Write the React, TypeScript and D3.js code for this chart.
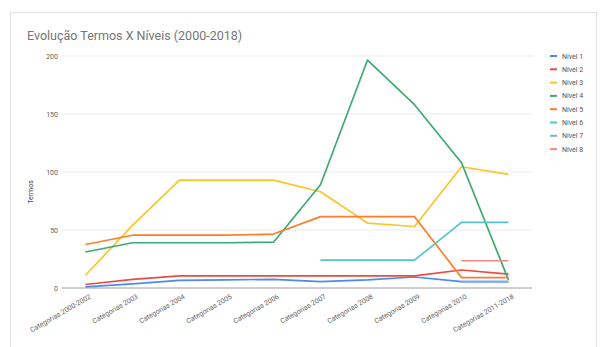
import React from "react";
import * as d3 from "d3";

const categories = [
  "Categorias 2000-2002",
  "Categorias 2003",
  "Categorias 2004",
  "Categorias 2005",
  "Categorias 2006",
  "Categorias 2007",
  "Categorias 2008",
  "Categorias 2009",
  "Categorias 2010",
  "Categorias 2011-2018",
];

const seriesNames = ["Nível 1", "Nível 2", "Nível 3", "Nível 4", "Nível 5", "Nível 6", "Nível 7", "Nível 8"];
const seriesColors = ["#4a8af4", "#ea4d3d", "#fbc52a", "#3daa72", "#ff7d2a", "#56c3cb", "#7baaf7", "#f08a82"];

const nivel1 = [1, 3.5, 6.5, 7, 7.5, 5.5, 7, 9.5, 5.5, 5.5];
const nivel2 = [3, 7.5, 10.5, 10.5, 10.5, 10.5, 10.5, 10.5, 15.5, 12];
const nivel3 = [11, 54, 93, 93, 93, 83, 56, 53, 104.5, 98];
const nivel4 = [31, 39, 39, 39, 39.5, 89, 196.5, 158, 108, 7];
const nivel5 = [37.5, 45.5, 45.5, 45.5, 46.5, 61.5, 61.5, 61.5, 9, 9];
const nivel6 = [null, null, null, null, null, 24, 24, 24, 56.5, 56.5];
const nivel7 = [null, null, null, null, null, null, null, null, 5.5, 5.5];
const nivel8 = [null, null, null, null, null, null, null, null, 23.5, 23.5];

const seriesValues: (number | null)[][] = [nivel1, nivel2, nivel3, nivel4, nivel5, nivel6, nivel7, nivel8];
const yTicks = [0, 50, 100, 150, 200];

const W = 604;
const H = 347;
const plot = { left: 62, right: 532, top: 56, bottom: 288 };

export default function App() {
  const x = d3.scaleBand<string>().domain(categories).range([plot.left, plot.right]);
  const cx = (i: number) => (x(categories[i]) as number) + x.bandwidth() / 2;
  const y = d3.scaleLinear().domain([0, 200]).range([plot.bottom, plot.top]);
  const line = d3
    .line<number | null>()
    .defined((d) => d != null)
    .x((_, i) => cx(i))
    .y((d) => y(d as number));

  const font = "Roboto, Arial, sans-serif";

  return (
    <svg
      width={W}
      height={H}
      style={{ position: "absolute", left: 0, top: 0, background: "#fff" }}
      fontFamily={font}
    >
      <rect x={10.5} y={12.5} width={586} height={336} fill="#fff" stroke="#e3e3e3" />
      <text x={27} y={40} fontSize={12.5} fill="#757575">
        Evolução Termos X Níveis (2000-2018)
      </text>
      {yTicks.map((t) => (
        <g key={t}>
          <line
            x1={plot.left}
            x2={plot.right}
            y1={y(t)}
            y2={y(t)}
            stroke={t === 0 ? "#9e9e9e" : "#ebebeb"}
            strokeWidth={1}
          />
          <text x={58} y={y(t) + 2.5} fontSize={7} fill="#616161" textAnchor="end">
            {t}
          </text>
        </g>
      ))}
      <text
        transform={`translate(33,${(plot.top + plot.bottom) / 2 + 20}) rotate(-90)`}
        fontSize={7}
        fill="#444"
        textAnchor="middle"
      >
        Termos
      </text>
      {categories.map((c, i) => (
        <text
          key={c}
          transform={`translate(${cx(i) + 6},${plot.bottom + 10}) rotate(-30)`}
          fontSize={7}
          fill="#616161"
          textAnchor="end"
        >
          {c}
        </text>
      ))}
      {seriesValues.map((vals, si) => (
        <path
          key={si}
          d={line(vals) || ""}
          fill="none"
          stroke={seriesColors[si]}
          strokeWidth={1.7}
          strokeLinejoin="round"
        />
      ))}
      {seriesNames.map((n, i) => (
        <g key={n} transform={`translate(550,${56 + i * 13.3})`}>
          <line x1={0} x2={7} y1={0} y2={0} stroke={seriesColors[i]} strokeWidth={2} />
          <text x={12} y={2.5} fontSize={7} fill="#555">
            {n}
          </text>
        </g>
      ))}
    </svg>
  );
}
